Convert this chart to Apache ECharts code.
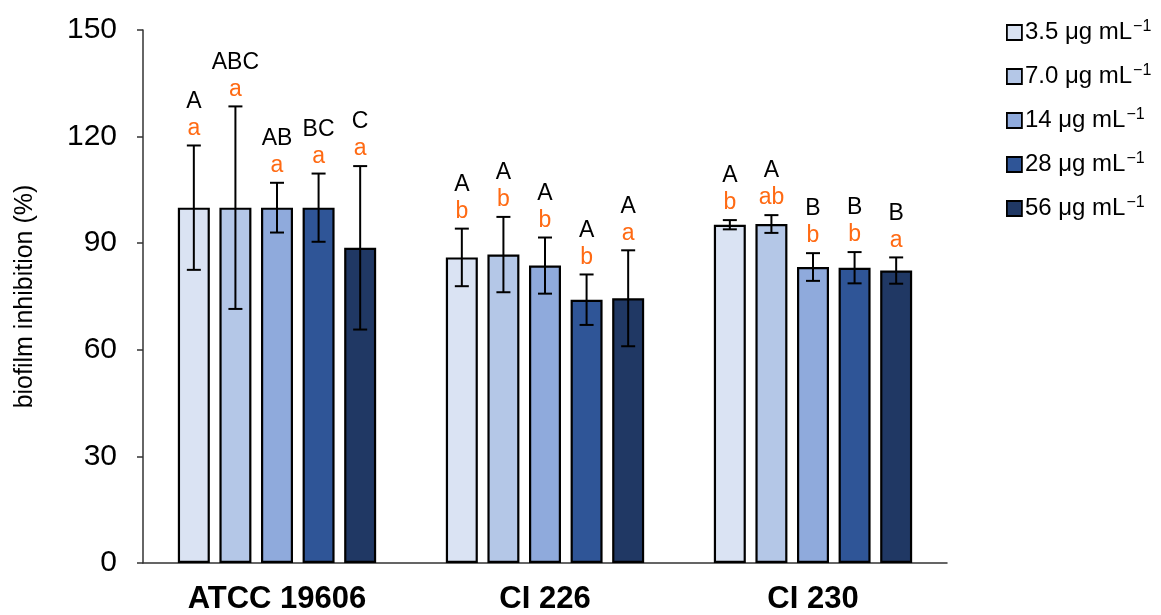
<!DOCTYPE html>
<html>
<head>
<meta charset="utf-8">
<script src="https://cdn.jsdelivr.net/npm/echarts@6/dist/echarts.min.js"></script>
<style>html,body{margin:0;padding:0;background:#fff}#c{width:1161px;height:615px}</style>
</head>
<body>
<div id="c"></div>
<script>
const categories = ['ATCC 19606', 'CI 226', 'CI 230'];
const concentrations = ['3.5', '7.0', '14', '28', '56'];
const colors = ['#dae3f3', '#b4c7e7', '#8faadc', '#2f5597', '#203864'];
const yTicks = [0, 30, 60, 90, 120, 150];

const mean35 = [100, 86.0, 95.2];
const mean70 = [100, 86.8, 95.4];
const mean14 = [100, 83.7, 83.3];
const mean28 = [100, 74.1, 83.1];
const mean56 = [88.7, 74.5, 82.3];

const err35 = [17.5, 8.1, 1.3];
const err70 = [28.5, 10.6, 2.5];
const err14 = [7.0, 7.9, 3.9];
const err28 = [9.6, 7.1, 4.4];
const err56 = [23.0, 13.5, 3.7];

const upper35 = ['A', 'A', 'A'];
const upper70 = ['ABC', 'A', 'A'];
const upper14 = ['AB', 'A', 'B'];
const upper28 = ['BC', 'A', 'B'];
const upper56 = ['C', 'A', 'B'];

const lower35 = ['a', 'b', 'b'];
const lower70 = ['a', 'b', 'ab'];
const lower14 = ['a', 'b', 'b'];
const lower28 = ['a', 'b', 'b'];
const lower56 = ['a', 'a', 'a'];

const means = [mean35, mean70, mean14, mean28, mean56];
const errs = [err35, err70, err14, err28, err56];
const uppers = [upper35, upper70, upper14, upper28, upper56];
const lowers = [lower35, lower70, lower14, lower28, lower56];

const FONT = '"Liberation Sans", Arial, sans-serif';
const CAT_GAP = 0.26, BAR_GAP = 0.30, N = concentrations.length;
const names = concentrations.map(c => c + ' μg mL−1');

const series = [];
concentrations.forEach((c, i) => {
  series.push({
    name: names[i],
    type: 'bar',
    data: means[i],
    barGap: (BAR_GAP * 100) + '%',
    barCategoryGap: (CAT_GAP * 100) + '%',
    itemStyle: { color: colors[i], borderColor: '#000', borderWidth: 2.2 },
    z: 2
  });
});
concentrations.forEach((c, i) => {
  series.push({
    type: 'custom',
    z: 5,
    silent: true,
    encode: { x: 0, y: 1 },
    data: means[i].map((m, k) => [k, m, errs[i][k], uppers[i][k], lowers[i][k]]),
    renderItem: function (params, api) {
      const k = api.value(0), m = api.value(1), e = api.value(2);
      const band = api.size([1, 0])[0];
      const remained = band * (1 - CAT_GAP);
      const w = remained / (N + (N - 1) * BAR_GAP);
      const off = -remained / 2 + i * w * (1 + BAR_GAP) + w / 2;
      const top = api.coord([k, m + e]);
      const bot = api.coord([k, m - e]);
      const x = top[0] + off;
      const cap = 7;
      const st = { stroke: '#000', lineWidth: 2 };
      return {
        type: 'group',
        children: [
          { type: 'line', shape: { x1: x, y1: top[1], x2: x, y2: bot[1] }, style: st },
          { type: 'line', shape: { x1: x - cap, y1: top[1], x2: x + cap, y2: top[1] }, style: st },
          { type: 'line', shape: { x1: x - cap, y1: bot[1], x2: x + cap, y2: bot[1] }, style: st },
          { type: 'text', style: { text: lowers[i][k], x: x, y: top[1] - 17, align: 'center', verticalAlign: 'middle', fill: '#ff6a13', font: '23px ' + FONT } },
          { type: 'text', style: { text: uppers[i][k], x: x, y: top[1] - 44, align: 'center', verticalAlign: 'middle', fill: '#000', font: '23px ' + FONT } }
        ]
      };
    }
  });
});

const option = {
  animation: false,
  backgroundColor: '#fff',
  grid: { left: 143, right: 214, top: 30, bottom: 49, containLabel: false },
  legend: {
    data: names,
    orient: 'vertical',
    left: 1001,
    top: 14,
    itemWidth: 15,
    itemHeight: 15,
    itemGap: 17,
    icon: 'rect',
    itemStyle: { borderColor: '#000', borderWidth: 1.8 },
    textStyle: {
      fontFamily: FONT, fontSize: 24, lineHeight: 24, color: '#000', padding: [0, 0, 0, -2],
      rich: { sup: { fontFamily: FONT, fontSize: 16, lineHeight: 16, color: '#000', padding: [0, 0, 11, 1] } }
    },
    formatter: function (n) { return n.replace('−1', '{sup|−1}'); }
  },
  xAxis: {
    type: 'category',
    data: categories,
    axisLine: { show: true, lineStyle: { color: '#333', width: 1.5 } },
    axisTick: { show: false },
    axisLabel: { fontFamily: FONT, fontSize: 31, fontWeight: 'bold', color: '#000', margin: 21 }
  },
  yAxis: {
    type: 'value',
    min: yTicks[0],
    max: yTicks[yTicks.length - 1],
    interval: yTicks[1] - yTicks[0],
    name: 'biofilm inhibition (%)',
    nameLocation: 'middle',
    nameGap: 105,
    nameTextStyle: { fontFamily: FONT, fontSize: 25, color: '#000' },
    axisLine: { show: true, lineStyle: { color: '#333', width: 1.5 } },
    axisTick: { show: true, length: 6, lineStyle: { color: '#333', width: 1.5 } },
    splitLine: { show: false },
    axisLabel: { fontFamily: FONT, fontSize: 30, color: '#000', margin: 26 }
  },
  series: series
};

const chart = echarts.init(document.getElementById('c'), null, { renderer: 'canvas' });
chart.setOption(option);
</script>
</body>
</html>
